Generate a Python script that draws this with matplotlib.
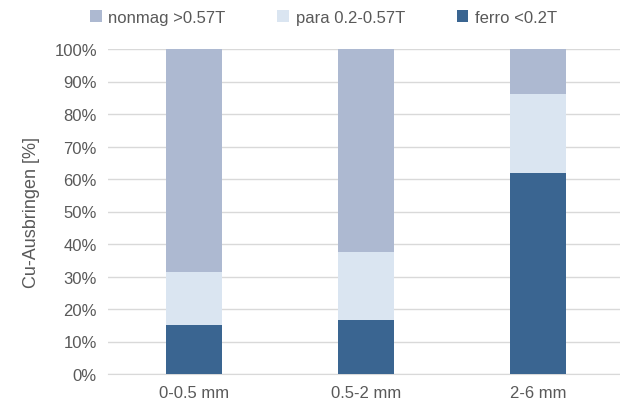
import matplotlib
matplotlib.use("Agg")
import matplotlib.pyplot as plt
import numpy as np

categories = ["0-0.5 mm", "0.5-2 mm", "2-6 mm"]
ferro = [15.0, 16.6, 62.0]
para = [16.3, 20.8, 24.3]
nonmag = [68.7, 62.6, 13.7]
yticks = list(range(0, 101, 10))

plt.rcParams['font.family'] = ['Liberation Sans', 'DejaVu Sans']
txt = '#595959'

fig = plt.figure(figsize=(6.2, 4.06), dpi=100)
ax = fig.add_axes([108/620, (406-375)/406, (624-108)/620, 325/406])
x = np.arange(len(categories))
w = 0.32
b1 = ax.bar(x, ferro, w, color='#3A6591', label='ferro <0.2T', zorder=3)
b2 = ax.bar(x, para, w, bottom=ferro, color='#DAE5F1', label='para 0.2-0.57T', zorder=3)
bot = [a + b for a, b in zip(ferro, para)]
b3 = ax.bar(x, nonmag, w, bottom=bot, color='#ADB9D1', label='nonmag >0.57T', zorder=3)

ax.set_xlim(-0.5, 2.5)
ax.set_ylim(0, 100)
ax.set_yticks(yticks)
ax.set_yticklabels([f"{t}%" for t in yticks], fontsize=12, color=txt)
ax.set_xticks(x)
ax.set_xticklabels(categories, fontsize=12, color=txt)
ax.grid(axis='y', color='#D9D9D9', linewidth=1, zorder=0)
for s in ['top', 'right', 'left']:
    ax.spines[s].set_visible(False)
ax.spines['bottom'].set_color('#D9D9D9')
ax.tick_params(axis='both', length=0, pad=8)
ax.set_ylabel('Cu-Ausbringen [%]', fontsize=13, color=txt, labelpad=10)

leg = fig.legend(handles=[b3, b2, b1], loc='upper center', bbox_to_anchor=(0.522, 1.01),
                 ncol=3, frameon=False, fontsize=12, handlelength=0.7, handleheight=0.7,
                 handletextpad=0.4, columnspacing=3.1)
for t in leg.get_texts():
    t.set_color(txt)

fig.savefig('out.png', dpi=100)
